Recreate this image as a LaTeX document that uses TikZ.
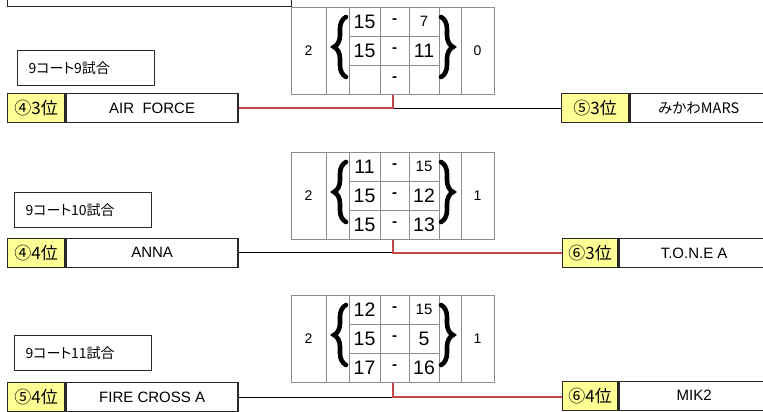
\documentclass[tikz,border=0pt]{standalone}
\usepackage{fontspec}
\setmainfont{Liberation Sans}
\newfontfamily\jp{Noto Sans CJK JP}[RawFeature=+palt]
\usetikzlibrary{decorations.pathreplacing}
\definecolor{rk}{RGB}{255,255,150}
\definecolor{ln}{RGB}{196,72,72}
\definecolor{bd}{RGB}{40,40,40}
\definecolor{gl}{RGB}{140,140,140}
\tikzset{
  boxst/.style={draw=bd, line width=1.4pt, inner sep=0pt, anchor=north west},
  rank/.style={boxst, fill=rk, minimum height=29pt, font=\jp\fontsize{17}{17}\selectfont},
  tname/.style={boxst, fill=white, minimum height=29pt, font=\fontsize{15}{15}\selectfont},
  lbl/.style={draw=bd, line width=1.1pt, anchor=north west, minimum height=35pt, text width=115pt, inner xsep=11pt, inner ysep=0pt, align=left, font=\jp\fontsize{14}{14}\selectfont},
  tab/.style={draw=gl, line width=0.7pt, anchor=north west, minimum width=203pt, minimum height=87pt, inner sep=0pt},
  gline/.style={draw=gl, line width=0.7pt},
  big/.style={font=\fontsize{19.5}{19.5}\selectfont},
  sml/.style={font=\fontsize{15}{15}\selectfont},
  dsh/.style={font=\bfseries\fontsize{15}{15}\selectfont},
  side/.style={font=\fontsize{14}{14}\selectfont},
  brc/.style={draw=black, line width=4.6pt, line cap=round, decorate, decoration={brace, amplitude=12pt}},
  redline/.style={draw=ln, line width=1.8pt},
  blkline/.style={draw=black, line width=1.1pt},
}
\newcommand\sctab[2]{%
  \node[tab] (#1) at (291,#2) {};
  \foreach \xx in {326,349,380,409,439,461}
    \draw[gline] (\xx,#2) -- (\xx,{#2+87});
  \draw[gline] (349,{#2+29}) -- (439,{#2+29});
  \draw[gline] (349,{#2+58}) -- (439,{#2+58});
  \draw[brc] (346,{#2+70}) -- (346,{#2+10});
  \draw[brc] (441,{#2+10}) -- (441,{#2+70});
}
\begin{document}
\begin{tikzpicture}[x=1pt,y=-1pt]
\useasboundingbox (0,0) rectangle (763,412);
\clip (0,0) rectangle (763,412);
\fill[white] (0,0) rectangle (763,412);

% top partial box
\node[boxst, anchor=south west, minimum width=284pt, minimum height=30pt] (top) at (7,7) {};

% ---------- match 1 ----------
\sctab{t1}{7}
\node[side] (a1) at (308.5,50.5) {2};
\node[side] (b1) at (477.5,50.5) {0};
\node[big] (s11) at (364.5,21.5) {15};
\node[dsh] (d11) at (394.5,21.5) {-};
\node[sml] (e11) at (424,21.5) {7};
\node[big] (s12) at (364.5,50.5) {15};
\node[dsh] (d12) at (394.5,50.5) {-};
\node[big] (e12) at (424,50.5) {11};
\node[dsh] (d13) at (394.5,79.5) {-};

\node[lbl] (l1) at (17,50) {9コート9試合};
\node[rank, minimum width=57pt] (r1) at (7,93) {④3位};
\node[tname, minimum width=172pt] (n1) at (r1.north east) {AIR\ \ FORCE};
\node[rank, minimum width=67pt] (q1) at (561,93) {⑤3位};
\node[tname, minimum width=137pt, font=\jp\fontsize{14.5}{14.5}\selectfont] (m1) at (q1.north east) {みかわMARS};
\coordinate (j1) at (n1.east -| t1.south);
\draw[blkline] (j1) -- (j1 -| q1.west);
\draw[redline] (n1.east) -- (j1) -- (t1.south);

% ---------- match 2 ----------
\sctab{t2}{152}
\node[side] (a2) at (308.5,195.5) {2};
\node[side] (b2) at (477.5,195.5) {1};
\node[big] (s21) at (364.5,166.5) {11};
\node[dsh] (d21) at (394.5,166.5) {-};
\node[sml] (e21) at (424,166.5) {15};
\node[big] (s22) at (364.5,195.5) {15};
\node[dsh] (d22) at (394.5,195.5) {-};
\node[big] (e22) at (424,195.5) {12};
\node[big] (s23) at (364.5,224.5) {15};
\node[dsh] (d23) at (394.5,224.5) {-};
\node[big] (e23) at (424,224.5) {13};

\node[lbl] (l2) at (14,192) {9コート10試合};
\node[rank, minimum width=57pt] (r2) at (7,237.5) {④4位};
\node[tname, minimum width=172pt] (n2) at (r2.north east) {ANNA};
\node[rank, minimum width=55pt] (q2) at (562,238) {⑥3位};
\node[tname, minimum width=150pt] (m2) at (q2.north east) {T.O.N.E A};
\coordinate (j2) at (n2.east -| t2.south);
\draw[blkline] (n2.east) -- (j2);
\draw[redline] (t2.south) -- (j2) -- (j2 -| q2.west);

% ---------- match 3 ----------
\sctab{t3}{295}
\node[side] (a3) at (308.5,338.5) {2};
\node[side] (b3) at (477.5,338.5) {1};
\node[big] (s31) at (364.5,309.5) {12};
\node[dsh] (d31) at (394.5,309.5) {-};
\node[sml] (e31) at (424,309.5) {15};
\node[big] (s32) at (364.5,338.5) {15};
\node[dsh] (d32) at (394.5,338.5) {-};
\node[big] (e32) at (424,338.5) {5};
\node[big] (s33) at (364.5,367.5) {17};
\node[dsh] (d33) at (394.5,367.5) {-};
\node[big] (e33) at (424,367.5) {16};

\node[lbl] (l3) at (14,335) {9コート11試合};
\node[rank, minimum width=57pt] (r3) at (7,382) {⑤4位};
\node[tname, minimum width=172pt] (n3) at (r3.north east) {FIRE CROSS A};
\node[rank, minimum width=55pt] (q3) at (562,380.5) {⑥4位};
\node[tname, minimum width=150pt] (m3) at (q3.north east) {MIK2};
\coordinate (j3) at (n3.east -| t3.south);
\draw[blkline] (n3.east) -- (j3);
\draw[redline] (t3.south) -- (j3) -- (j3 -| q3.west);
\end{tikzpicture}
\end{document}
